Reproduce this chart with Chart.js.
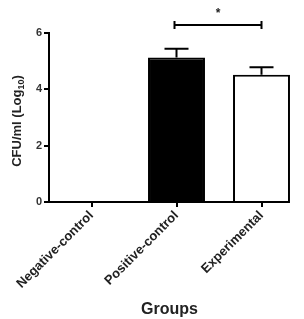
<!DOCTYPE html>
<html>
<head>
<meta charset="utf-8">
<script src="https://cdn.jsdelivr.net/npm/chart.js@4.4.1/dist/chart.umd.min.js"></script>
<style>
  html, body { margin: 0; padding: 0; background: #fff; }
  #wrap { width: 304px; height: 319px; position: relative; }
</style>
</head>
<body>
<div id="wrap"><canvas id="barChart"></canvas></div>
<script>
// datos del grafico
const groups = ["Negative-control", "Positive-control", "Experimental"];
const means = [0, 5.13, 4.52];
const errors = [0, 0.31, 0.26];
const yTicks = [0, 2, 4, 6];
const sigPair = [1, 2];
const sigLevel = 6.28;
const sigText = "*";

const FONT = "'Liberation Sans', Arial, sans-serif";

// barras de error (solo hacia arriba) + corchete de significancia + titulos
const extras = {
  id: "extras",
  afterDatasetsDraw(chart) {
    const ctx = chart.ctx;
    const x = chart.scales.x;
    const y = chart.scales.y;
    const meta = chart.getDatasetMeta(0);
    ctx.save();
    ctx.strokeStyle = "#000";
    ctx.lineWidth = 2;

    // eje x: termina en el borde derecho de la ultima barra
    const last = meta.data[meta.data.length - 1];
    ctx.beginPath();
    ctx.moveTo(chart.chartArea.left - 1, y.getPixelForValue(0));
    ctx.lineTo(last.x + last.width / 2, y.getPixelForValue(0));
    ctx.stroke();

    errors.forEach((e, i) => {
      if (!e) return;
      const cx = x.getPixelForValue(i);
      const y0 = y.getPixelForValue(means[i]);
      const y1 = y.getPixelForValue(means[i] + e);
      ctx.beginPath();
      ctx.moveTo(cx, y0);
      ctx.lineTo(cx, y1);
      ctx.moveTo(cx - 12, y1);
      ctx.lineTo(cx + 12, y1);
      ctx.stroke();
    });

    // corchete
    const xa = x.getPixelForValue(sigPair[0]) - 2;
    const xb = x.getPixelForValue(sigPair[1]);
    const ys = y.getPixelForValue(sigLevel);
    ctx.beginPath();
    ctx.moveTo(xa, ys - 4); ctx.lineTo(xa, ys + 4);
    ctx.moveTo(xa, ys); ctx.lineTo(xb, ys);
    ctx.moveTo(xb, ys - 4); ctx.lineTo(xb, ys + 4);
    ctx.stroke();
    ctx.fillStyle = "#222";
    ctx.font = "bold 12px " + FONT;
    ctx.textAlign = "center";
    ctx.textBaseline = "middle";
    ctx.fillText(sigText, (xa + xb) / 2, ys - 11);

    // titulo eje x
    ctx.font = "bold 16px " + FONT;
    ctx.textBaseline = "alphabetic";
    ctx.fillText("Groups", (chart.chartArea.left + last.x + last.width / 2) / 2, 314);

    // titulo eje y con subindice
    ctx.translate(21, 121);
    ctx.rotate(-Math.PI / 2);
    const big = "bold 13px " + FONT;
    const small = "bold 9px " + FONT;
    const parts = [["CFU/ml (Log", big, 0], ["10", small, 3], [")", big, 0]];
    let w = 0;
    parts.forEach(p => { ctx.font = p[1]; w += ctx.measureText(p[0]).width; });
    let px = -w / 2;
    ctx.textAlign = "left";
    parts.forEach(p => {
      ctx.font = p[1];
      ctx.fillText(p[0], px, p[2]);
      px += ctx.measureText(p[0]).width;
    });
    ctx.restore();
  }
};

let ctx = document.getElementById("barChart").getContext("2d");
let barChart = new Chart(ctx, {
  type: "bar",
  data: {
    labels: groups,
    datasets: [
      {
        data: means,
        backgroundColor: ["#000", "#000", "#fff"],
        borderColor: "#000",
        borderWidth: 2,
        barPercentage: 0.67,
        categoryPercentage: 1,
      },
    ],
  },
  options: {
    responsive: true,
    maintainAspectRatio: false,
    animation: false,
    layout: { padding: { top: 33, right: 0, left: 0, bottom: 0 } },
    plugins: {
      legend: { display: false },
      tooltip: { enabled: false },
    },
    scales: {
      x: {
        offset: true,
        grid: {
          offset: false,
          drawOnChartArea: false,
          drawTicks: true,
          tickLength: 5,
          color: "#000",
          lineWidth: 2,
        },
        border: { display: false },
        ticks: {
          color: "#222",
          font: { family: FONT, size: 13, weight: "bold" },
          minRotation: 45,
          maxRotation: 45,
          padding: 1,
        },
        afterFit: (scale) => { scale.height = 117; },
      },
      y: {
        min: 0,
        max: 6,
        afterBuildTicks: (scale) => { scale.ticks = yTicks.map(v => ({ value: v })); },
        grid: {
          drawOnChartArea: false,
          drawTicks: true,
          tickLength: 5,
          color: "#000",
          lineWidth: 2,
        },
        border: { color: "#000", width: 2 },
        ticks: {
          color: "#333",
          font: { family: FONT, size: 11, weight: "bold" },
          padding: 2,
        },
        afterFit: (scale) => { scale.width = 49; },
      },
    },
  },
  plugins: [extras],
});
</script>
</body>
</html>
